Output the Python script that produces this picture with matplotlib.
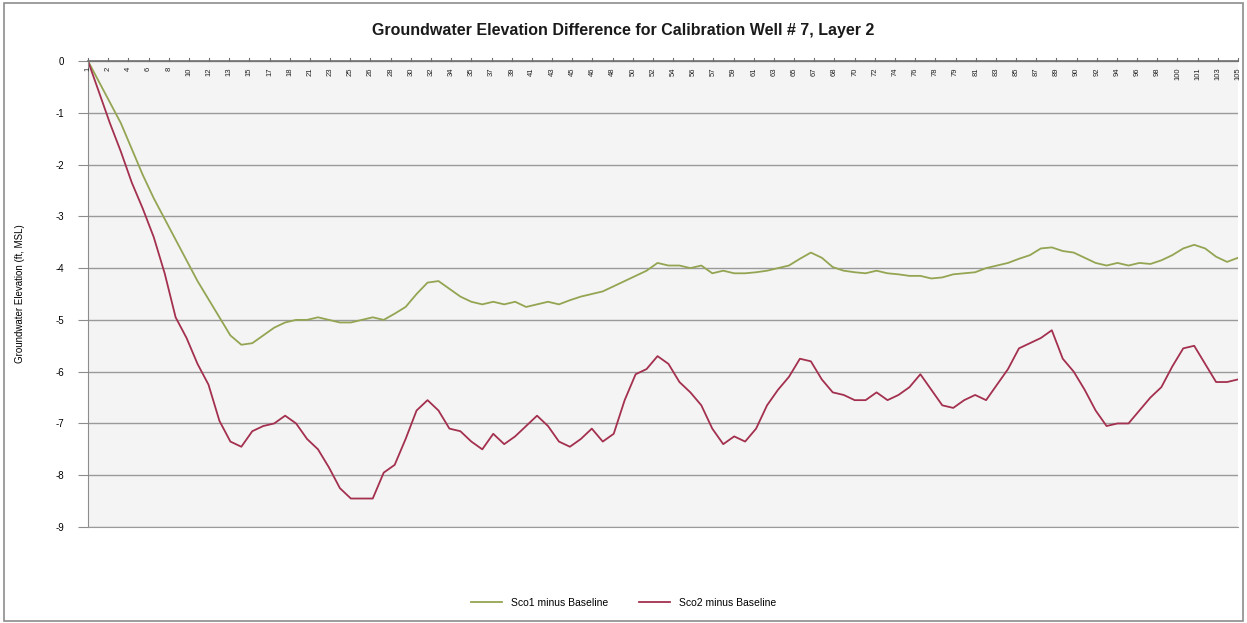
import numpy as np
import matplotlib
matplotlib.use("Agg")
import matplotlib.pyplot as plt
from matplotlib.patches import Rectangle

title = "Groundwater Elevation Difference for Calibration Well # 7, Layer 2"
ylabel = "Groundwater Elevation (ft, MSL)"
series_names = ["Sco1 minus Baseline", "Sco2 minus Baseline"]

sco1 = [0, -0.4, -0.8, -1.2, -1.7, -2.2, -2.65, -3.05, -3.45, -3.85,
        -4.25, -4.6, -4.95, -5.3, -5.48, -5.45, -5.3, -5.15, -5.05, -5.0,
        -5.0, -4.95, -5.0, -5.05, -5.05, -5.0, -4.95, -5.0, -4.88, -4.75,
        -4.5, -4.28, -4.25, -4.4, -4.55, -4.65, -4.7, -4.65, -4.7, -4.65,
        -4.75, -4.7, -4.65, -4.7, -4.62, -4.55, -4.5, -4.45, -4.35, -4.25,
        -4.15, -4.05, -3.9, -3.95, -3.95, -4.0, -3.95, -4.1, -4.05, -4.1,
        -4.1, -4.08, -4.05, -4.0, -3.95, -3.82, -3.7, -3.8, -3.98, -4.05,
        -4.08, -4.1, -4.05, -4.1, -4.12, -4.15, -4.15, -4.2, -4.18, -4.12,
        -4.1, -4.08, -4.0, -3.95, -3.9, -3.82, -3.75, -3.62, -3.6, -3.67,
        -3.7, -3.8, -3.9, -3.95, -3.9, -3.95, -3.9, -3.92, -3.85, -3.75,
        -3.62, -3.55, -3.62, -3.78, -3.88, -3.8]

sco2 = [0, -0.6, -1.2, -1.75, -2.35, -2.85, -3.4, -4.1, -4.95, -5.35,
        -5.85, -6.25, -6.95, -7.35, -7.45, -7.15, -7.05, -7.0, -6.85, -7.0,
        -7.3, -7.5, -7.85, -8.25, -8.45, -8.45, -8.45, -7.95, -7.8, -7.3,
        -6.75, -6.55, -6.75, -7.1, -7.15, -7.35, -7.5, -7.2, -7.4, -7.25,
        -7.05, -6.85, -7.05, -7.35, -7.45, -7.3, -7.1, -7.35, -7.2, -6.55,
        -6.05, -5.95, -5.7, -5.85, -6.2, -6.4, -6.65, -7.1, -7.4, -7.25,
        -7.35, -7.1, -6.65, -6.35, -6.1, -5.75, -5.8, -6.15, -6.4, -6.45,
        -6.55, -6.55, -6.4, -6.55, -6.45, -6.3, -6.05, -6.35, -6.65, -6.7,
        -6.55, -6.45, -6.55, -6.25, -5.95, -5.55, -5.45, -5.35, -5.2, -5.75,
        -6.0, -6.35, -6.75, -7.05, -7.0, -7.0, -6.75, -6.5, -6.3, -5.9,
        -5.55, -5.5, -5.85, -6.2, -6.2, -6.15]

x_labels = ["1", "2", "4", "6", "8", "10", "12", "13", "15", "17",
            "18", "21", "23", "25", "26", "28", "30", "32", "34", "35",
            "37", "39", "41", "43", "45", "46", "48", "50", "52", "54",
            "56", "57", "59", "61", "63", "65", "67", "68", "70", "72",
            "74", "76", "78", "79", "81", "83", "85", "87", "89", "90",
            "92", "94", "96", "98", "100", "101", "103", "105"]

y_ticks = [0, -1, -2, -3, -4, -5, -6, -7, -8, -9]

plt.rcParams['font.family'] = ['Liberation Sans', 'DejaVu Sans']

W, H = 1247, 623
fig = plt.figure(figsize=(W / 100, H / 100), dpi=100)
fig.patch.set_facecolor('white')
fig.add_artist(Rectangle((0.003, 0.003), 0.994, 0.992, transform=fig.transFigure,
                         fill=False, edgecolor='#8c8c8c', linewidth=1.2))

ax = fig.add_axes([88 / W, 1 - 527 / H, (1238 - 88) / W, (527 - 61) / H])
ax.set_facecolor('#f4f4f4')

n = len(sco1)
x = np.arange(n)
ax.plot(x, sco1, color='#93a552', linewidth=1.3, label=series_names[0])
ax.plot(x, sco2, color='#a3304e', linewidth=1.3, label=series_names[1])

ax.set_xlim(0, n - 1)
ax.set_ylim(-9, 0)
ax.set_yticks(y_ticks)
ax.set_yticklabels([str(v) for v in y_ticks], fontsize=7)
ax.tick_params(axis='y', length=7, color='#8c8c8c', pad=10)
ax.set_xticks([])
ax.grid(axis='y', color='#9a9a9a', linewidth=1.0)
ax.set_axisbelow(True)

for s in ['right']:
    ax.spines[s].set_visible(False)
ax.spines['bottom'].set_color('#9a9a9a')
ax.spines['left'].set_color('#8c8c8c')
ax.spines['top'].set_color('#6e6e6e')
ax.spines['top'].set_linewidth(1.2)

tick_pos = np.linspace(0, n - 1, len(x_labels))
for p, lab in zip(tick_pos, x_labels):
    ax.text(p, -0.12, lab, rotation=90, fontsize=5.5, ha='center', va='top',
            color='#222222')
    ax.plot([p, p], [0, 0.06], color='#6e6e6e', linewidth=0.8, clip_on=False)

ax.set_ylabel(ylabel, fontsize=7, labelpad=10)
ax.yaxis.set_label_coords(-0.055, 0.5)

fig.text(0.5, 1 - 30 / H, title, ha='center', va='center', fontsize=11.5,
         fontweight='bold', color='#1a1a1a')

fig.legend(loc='center', bbox_to_anchor=(0.5, 1 - 603 / H), ncol=2,
           frameon=False, fontsize=7.5, handlelength=3, columnspacing=3)

fig.savefig('out.png', dpi=100)
